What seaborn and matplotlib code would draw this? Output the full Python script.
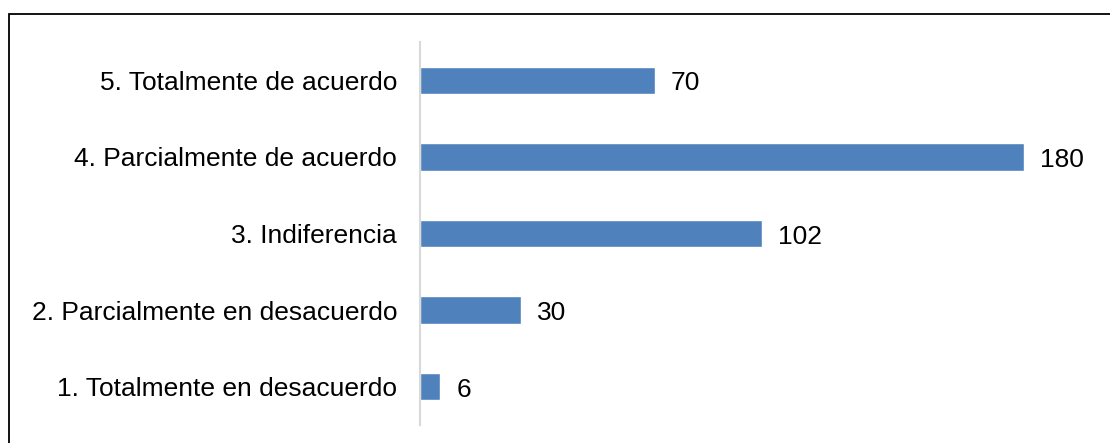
import matplotlib
matplotlib.use("Agg")
import matplotlib.pyplot as plt
import seaborn as sns
import pandas as pd
from matplotlib.patches import Rectangle

categories = ["5. Totalmente de acuerdo", "4. Parcialmente de acuerdo", "3. Indiferencia",
              "2. Parcialmente en desacuerdo", "1. Totalmente en desacuerdo"]
values = [70, 180, 102, 30, 6]

sns.set_theme(style="white")
plt.rcParams['font.family'] = ['Liberation Sans', 'DejaVu Sans']

W, H = 1110, 443
fig = plt.figure(figsize=(W / 100, H / 100), dpi=100)
ax = fig.add_axes([420 / W, 1 - 425 / H, (1091 - 420) / W, (425 - 42) / H])

df = pd.DataFrame({"cat": categories, "val": values})
sns.barplot(data=df, x="val", y="cat", color="#4F81BD", saturation=1, width=0.36, ax=ax)

ax.set_xlim(0, 200)
ax.set_xlabel("")
ax.set_ylabel("")
ax.set_xticks([])
for s in ["top", "right", "bottom"]:
    ax.spines[s].set_visible(False)
ax.spines["left"].set_color("#D9D9D9")
ax.spines["left"].set_linewidth(1.5)
ax.tick_params(axis="y", length=0, pad=16.5, labelsize=19, labelcolor="black")

for i, v in enumerate(values):
    ax.text(v + 4.8, i + 0.04, str(v), va="center", ha="left", fontsize=19, color="black")

fig.patches.append(Rectangle((9 / W, -0.1), 1.2, 1 - 14 / H + 0.1, transform=fig.transFigure,
                             fill=False, edgecolor="black", linewidth=1.3))

fig.savefig("out.png", dpi=100)
